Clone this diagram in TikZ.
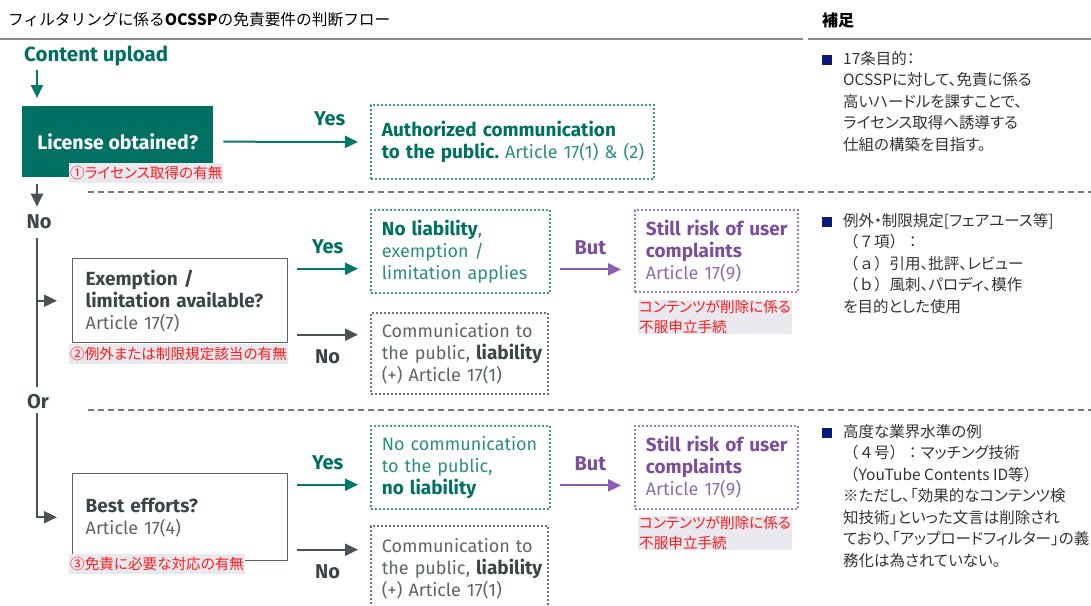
\documentclass[tikz,border=0pt]{standalone}
\usepackage{fontspec}
\setmainfont{Fira Sans}
\newfontfamily\jp{Noto Sans CJK JP}
\newfontfamily\jpp[RawFeature=+palt]{Noto Sans CJK JP}
\usetikzlibrary{arrows.meta,positioning}
\hyphenpenalty=10000
\exhyphenpenalty=10000

\definecolor{tealfill}{HTML}{007062}
\definecolor{tealdark}{HTML}{00705F}
\definecolor{teallight}{HTML}{2E8C82}
\definecolor{tealdot}{HTML}{3A9A8E}
\definecolor{tealarrow}{HTML}{00796B}
\definecolor{graydark}{HTML}{3D4549}
\definecolor{graytext}{HTML}{5D6569}
\definecolor{graydot}{HTML}{6A7276}
\definecolor{grayarrow}{HTML}{4A5256}
\definecolor{boxgray}{HTML}{5A6266}
\definecolor{purpdark}{HTML}{7B4E9E}
\definecolor{purplight}{HTML}{8C6BB1}
\definecolor{purpdot}{HTML}{9A7BC0}
\definecolor{purparrow}{HTML}{8A5DB5}
\definecolor{redtext}{HTML}{FF1A1A}
\definecolor{lblbg}{HTML}{E8E8EE}
\definecolor{navy}{HTML}{0A1A7A}
\definecolor{sepgray}{HTML}{777777}
\definecolor{rulegray}{HTML}{8A8A8A}
\definecolor{notegray}{HTML}{333333}

\newcommand{\tstrong}[1]{{\color{tealdark}\bfseries\fontsize{19}{22}\selectfont #1}}
\newcommand{\gstrong}[1]{{\color{graydark}\bfseries\fontsize{19}{22}\selectfont #1}}
\newcommand{\pstrong}[1]{{\color{purpdark}\bfseries\fontsize{19}{22}\selectfont #1}}

\tikzset{
  entext/.style={font=\fontsize{18}{22}\selectfont},
  arrtip/.style={-{Triangle[length=13pt,width=12pt]}},
  tealarr/.style={arrtip, draw=tealarrow, line width=2pt},
  grayarr/.style={arrtip, draw=grayarrow, line width=2pt},
  purparr/.style={arrtip, draw=purparrow, line width=2pt},
  spineline/.style={draw=grayarrow, line width=2pt},
  dotbox/.style={dash pattern=on 1.8pt off 2.2pt, line width=1.8pt, anchor=north west,
    align=left, inner xsep=11pt, inner ysep=0pt, entext},
  tealbox/.style={dotbox, draw=tealdot, text=teallight},
  graybox/.style={dotbox, draw=graydot, text=graytext},
  purpbox/.style={dotbox, draw=purpdot, text=purplight},
  askbox/.style={draw=boxgray, line width=1.4pt, anchor=north west, align=left,
    inner xsep=13pt, inner ysep=0pt, entext, text=graytext, fill=white},
  licbox/.style={fill=tealfill, anchor=north west, text=white,
    font=\bfseries\fontsize{19.5}{22}\selectfont},
  redlbl/.style={fill=lblbg, text=redtext, font=\jpp\fontsize{14.6}{20}\selectfont,
    anchor=north west, align=left, inner xsep=1pt, inner ysep=0pt, minimum height=20pt},
  armlbl/.style={font=\bfseries\fontsize{20}{22}\selectfont, inner sep=0pt},
  notetext/.style={font=\jpp\fontsize{15.5}{21.5}\selectfont, text=notegray,
    anchor=north west, align=left, inner sep=0pt},
  bulletsq/.style={fill=navy, minimum size=10pt, inner sep=0pt},
  sepdash/.style={draw=sepgray, line width=1.3pt, dash pattern=on 6pt off 4pt},
}

\begin{document}
\begin{tikzpicture}[x=1pt,y=-1pt]
    \useasboundingbox (0,0) rectangle (1091,605);
    \coordinate (spine) at (37,0);

    %% headings
    \node[anchor=west, inner sep=0pt, font=\jp\fontsize{15.7}{18}\selectfont, text=black]
        (title) at (8,20) {フィルタリングに係る{\bfseries OCSSP}の免責要件の判断フロー};
    \node[anchor=west, inner sep=0pt, font=\jp\bfseries\fontsize{16}{18}\selectfont, text=black]
        (side) at (822,20) {補足};
    \draw[rulegray, line width=1.2pt] (0,39) -- (803,39);
    \draw[rulegray, line width=1.2pt] (808,39) -- (1091,39);

    %% section separators
    \draw[sepdash] (88,192) -- (1091,192);
    \draw[sepdash] (88,410) -- (1091,410);

    %% step 1: licence
    \node[anchor=west, inner sep=0pt, text=tealdark, font=\bfseries\fontsize{20.5}{22}\selectfont]
        (upload) at (24,56) {Content upload};
    \node[licbox, minimum width=191pt, minimum height=71pt] (lic) at (22,106) {License obtained?};
    \node[tealbox, minimum width=283pt, minimum height=74pt, text width=261pt] (auth) at (370,104)
        {\tstrong{Authorized~communication}\\\tstrong{to~the~public.}~Article~17(1)~\&~(2)};
    \node[redlbl] (lbl1) at (69,163) {①ライセンス取得の有無};

    \draw[tealarr] ([yshift=-4pt]upload.south -| spine) -- ([yshift=8pt]lic.north -| spine);
    \draw[tealarr] ([xshift=10pt]lic.east) -- node[armlbl, text=tealdark, pos=0.79, yshift=23pt] (yes1) {Yes}
        ([xshift=-12pt]auth.west);

    %% spine
    \node[armlbl, text=graydark] (no0) at (39,222) {No};
    \node[armlbl, text=graydark] (or) at (38,402) {Or};
    \draw[grayarr] ([yshift=-7pt]lic.south -| spine) -- ([yshift=8pt]no0.north -| spine);
    \draw[spineline] ([yshift=-9pt]no0.south -| spine) -- ([yshift=8pt]or.north -| spine);

    %% step 2: exemption / limitation
    \node[askbox, minimum width=215pt, minimum height=84pt, text width=189pt] (exm) at (72,258)
        {\gstrong{Exemption~/}\\\gstrong{limitation~available?}\\Article~17(7)};
    \node[redlbl] (lbl2) at (69,344) {②例外または制限規定該当の有無};
    \node[tealbox, minimum width=179pt, minimum height=83pt, text width=157pt] (nol) at (370,209)
        {\tstrong{No~liability},\\exemption~/\\limitation~applies};
    \node[graybox, minimum width=177pt, minimum height=81pt, text width=155pt] (com1) at (370,312)
        {Communication~to\\the~public,~\gstrong{liability}\\(+)~Article~17(1)};
    \node[purpbox, minimum width=163pt, minimum height=82pt, text width=141pt] (risk1) at (634,209)
        {\pstrong{Still~risk~of~user}\\\pstrong{complaints}\\Article~17(9)};
    \node[redlbl] (obj1) at (638,300) {コンテンツが削除に係る\\不服申立手続};

    \draw[grayarr] (spine |- exm.west) -- ([xshift=-15pt]exm.west);
    \draw[tealarr] ([xshift=9pt,yshift=32pt]exm.east)
        -- node[armlbl, text=tealdark, yshift=22pt] (yes2) {Yes}
        ([xshift=-12pt,yshift=32pt]exm.east -| nol.west);
    \draw[grayarr] ([xshift=9pt,yshift=-34pt]exm.east)
        -- node[armlbl, text=graydark, yshift=-22pt] (no2) {No}
        ([xshift=-12pt,yshift=-34pt]exm.east -| com1.west);
    \draw[purparr] ([xshift=9pt,yshift=-18pt]nol.east)
        -- node[armlbl, text=purpdark, yshift=22pt] (but1) {But}
        ([xshift=-13pt,yshift=-18pt]nol.east -| risk1.west);

    %% step 3: best efforts
    \node[askbox, minimum width=215pt, minimum height=87pt, text width=189pt] (best) at (72,473)
        {\gstrong{Best~efforts?}\\Article~17(4)};
    \node[redlbl] (lbl3) at (69,554) {③免責に必要な対応の有無};
    \node[tealbox, minimum width=179pt, minimum height=83pt, text width=157pt] (nocom) at (370,425)
        {No~communication\\to~the~public,\\\tstrong{no~liability}};
    \node[graybox, minimum width=177pt, minimum height=86pt, text width=155pt] (com2) at (370,525)
        {Communication~to\\the~public,~\gstrong{liability}\\(+)~Article~17(1)};
    \node[purpbox, minimum width=163pt, minimum height=83pt, text width=141pt] (risk2) at (634,425)
        {\pstrong{Still~risk~of~user}\\\pstrong{complaints}\\Article~17(9)};
    \node[redlbl] (obj2) at (638,516) {コンテンツが削除に係る\\不服申立手続};

    \draw[grayarr] ([yshift=-4pt]or.south -| spine) |- ([xshift=-15pt]best.west);
    \draw[tealarr] ([xshift=9pt,yshift=32.5pt]best.east)
        -- node[armlbl, text=tealdark, yshift=22pt] (yes3) {Yes}
        ([xshift=-12pt,yshift=32.5pt]best.east -| nocom.west);
    \draw[grayarr] ([xshift=9pt,yshift=-32.5pt]best.east)
        -- node[armlbl, text=graydark, yshift=-22pt] (no3) {No}
        ([xshift=-12pt,yshift=-32.5pt]best.east -| com2.west);
    \draw[purparr] ([xshift=9pt,yshift=-18pt]nocom.east)
        -- node[armlbl, text=purpdark, yshift=22pt] (but2) {But}
        ([xshift=-13pt,yshift=-18pt]nocom.east -| risk2.west);

    %% side notes
    \node[bulletsq] (b1) at (827,60) {};
    \node[notetext] (note1) at (843,51)
        {17条目的：\\OCSSPに対して、免責に係る\\高いハードルを課すことで、\\ライセンス取得へ誘導する\\仕組の構築を目指す。};
    \node[bulletsq] (b2) at (827,222) {};
    \node[notetext] (note2) at (843,213)
        {例外・制限規定[フェアユース等]\\{\jp （７項）：}\\{\jp （ａ）}引用、批評、レビュー\\{\jp （ｂ）}風刺、パロディ、模作\\を目的とした使用};
    \node[bulletsq] (b3) at (827,433) {};
    \node[notetext] (note3) at (843,424)
        {高度な業界水準の例\\{\jp （４号）：}マッチング技術\\{\jp （}YouTube Contents ID等{\jp ）}\\※ただし、「効果的なコンテンツ検\\知技術」といった文言は削除され\\ており、「アップロードフィルター」の義\\務化は為されていない。};
\end{tikzpicture}
\end{document}
